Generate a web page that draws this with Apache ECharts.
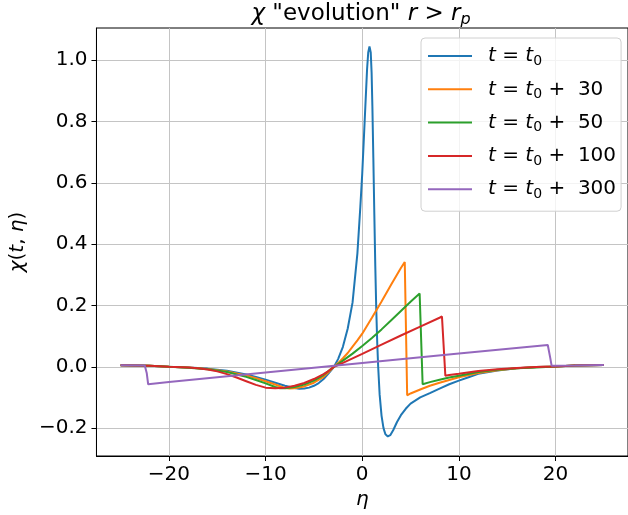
<!DOCTYPE html>
<html>
<head>
<meta charset="utf-8">
<script src="https://cdn.jsdelivr.net/npm/echarts@6/dist/echarts.min.js"></script>
<style>
html,body{margin:0;padding:0;background:#fff;}
#chart{width:628px;height:515px;}
</style>
</head>
<body>
<div id="chart"></div>
<script>
// ---- data ----
const xTicks = [-20, -10, 0, 10, 20];
const yTicks = [-0.2, 0.0, 0.2, 0.4, 0.6, 0.8, 1.0];
const seriesNames = ['30', '50', '100', '300'];

const eta0 = [-25,-22,-20,-18,-16,-14,-12,-11,-10,-9,-8,-7,-6.5,-6,-5.5,-5,-4.5,-4,-3.5,-2.92,-2.5,-2,-1.5,-1,-0.5,-0.2,0,0.25,0.5,0.62,0.75,0.88,0.97,1.05,1.15,1.25,1.35,1.45,1.55,1.65,1.8,2.0,2.2,2.4,2.65,2.9,3.2,3.6,4,4.5,5,6,7,8,9,10,11,12,14,16,18,20,22,25];
const chi0 = [0.005,0.003,0.0,-0.002,-0.006,-0.013,-0.025,-0.033,-0.042,-0.052,-0.062,-0.069,-0.072,-0.071,-0.068,-0.062,-0.053,-0.04,-0.022,0,0.025,0.065,0.125,0.21,0.37,0.52,0.63,0.8,0.97,1.025,1.045,1.025,0.96,0.85,0.68,0.5,0.33,0.19,0.08,0.0,-0.09,-0.16,-0.2,-0.22,-0.227,-0.223,-0.207,-0.18,-0.158,-0.137,-0.12,-0.1,-0.086,-0.071,-0.057,-0.045,-0.034,-0.023,-0.012,-0.005,-0.001,0.001,0.004,0.006];

const eta30 = [-25,-22,-20,-18,-16,-14,-12,-11,-10,-9,-8,-7.5,-7,-6,-5,-4,-3.5,-2.92,-2.5,-2,-1.5,-1,-0.5,0,1,2,3,4,4.4,4.65,5,6,7,8,9,10,12,14,16,18,20,22,25];
const chi30 = [0.005,0.003,0.0,-0.002,-0.007,-0.015,-0.028,-0.037,-0.047,-0.058,-0.069,-0.071,-0.07,-0.064,-0.052,-0.033,-0.018,0,0.012,0.028,0.045,0.066,0.086,0.108,0.16,0.213,0.268,0.322,0.342,-0.093,-0.087,-0.074,-0.062,-0.052,-0.043,-0.034,-0.02,-0.011,-0.005,-0.001,0.001,0.004,0.006];

const eta50 = [-25,-22,-20,-18,-16,-14,-12,-11,-10,-9,-8.5,-8,-7,-6,-5,-4,-3.5,-2.92,-2,-1,0,1,2,3,4,5,5.94,6.25,7,8,9,10,12,14,16,18,20,22,25];
const chi50 = [0.005,0.003,0.0,-0.003,-0.008,-0.017,-0.033,-0.043,-0.054,-0.066,-0.07,-0.07,-0.066,-0.058,-0.045,-0.027,-0.014,0,0.02,0.043,0.068,0.094,0.122,0.152,0.182,0.212,0.239,-0.057,-0.05,-0.042,-0.035,-0.029,-0.017,-0.01,-0.005,-0.002,0.001,0.004,0.006];

const eta100 = [-25,-22,-20,-18,-17,-16,-15,-14,-13,-12,-11,-10,-9,-8,-7,-6,-5,-4,-3.5,-2.92,-2,0,2,4,6,8,8.25,8.6,9,10,12,14,16,18,20,22,25];
const chi100 = [0.005,0.003,0.0,-0.002,-0.005,-0.009,-0.015,-0.024,-0.035,-0.047,-0.059,-0.068,-0.07,-0.068,-0.062,-0.053,-0.04,-0.024,-0.014,0,0.013,0.042,0.072,0.102,0.131,0.16,0.164,-0.029,-0.027,-0.023,-0.014,-0.008,-0.004,-0.001,0.001,0.004,0.006];

const eta300 = [-25,-22.5,-22.3,-22.15,-20,-10,0,10,19.2,19.45,19.6,22,25];
const chi300 = [0.005,0.004,-0.02,-0.057,-0.05,-0.019,0.012,0.043,0.071,0.03,0.003,0.004,0.006];

const colors = ['#1f77b4', '#ff7f0e', '#2ca02c', '#d62728', '#9467bd'];
// ---------------------------------------

const FONT = 'DejaVu Sans';
const pairs = (xs, ys) => xs.map((x, i) => [x, ys[i]]);
const minus = s => String(s).replace('-', '\u2212');

const curves = [
  {name: 'L0', eta: eta0, chi: chi0},
  {name: 'L30', eta: eta30, chi: chi30},
  {name: 'L50', eta: eta50, chi: chi50},
  {name: 'L100', eta: eta100, chi: chi100},
  {name: 'L300', eta: eta300, chi: chi300}
];

const labelText = {
  L0: '{i|t} = {i|t}{s|0}',
  L30: '{i|t} = {i|t}{s|0} +  ' + seriesNames[0],
  L50: '{i|t} = {i|t}{s|0} +  ' + seriesNames[1],
  L100: '{i|t} = {i|t}{s|0} +  ' + seriesNames[2],
  L300: '{i|t} = {i|t}{s|0} +  ' + seriesNames[3]
};

const chart = echarts.init(document.getElementById('chart'), null, {renderer: 'canvas'});
chart.setOption({
  animation: false,
  backgroundColor: '#ffffff',
  color: colors,
  title: {
    text: '{i|\u03c7} "evolution" {i|r} > {i|r}{s|p}',
    left: 361,
    top: 0,
    textAlign: 'center',
    padding: 0,
    textStyle: {
      fontFamily: FONT, fontSize: 23, color: '#000', fontWeight: 'normal', lineHeight: 28,
      rich: {
        i: {fontFamily: FONT, fontSize: 23, fontStyle: 'italic', color: '#000', lineHeight: 28},
        s: {fontFamily: FONT, fontSize: 16, fontStyle: 'italic', color: '#000', lineHeight: 16, padding: [12, 0, 0, 0]}
      }
    }
  },
  legend: {
    orient: 'vertical',
    left: 421,
    top: 38,
    padding: [6, 5, 10, 7],
    icon: 'rect',
    itemWidth: 44,
    itemHeight: 2,
    itemGap: 9.3,
    backgroundColor: 'rgba(255,255,255,0.8)',
    borderColor: '#d0d0d0',
    borderWidth: 1,
    borderRadius: 4,
    data: curves.map(c => c.name),
    formatter: n => labelText[n],
    textStyle: {
      fontFamily: FONT, fontSize: 20, color: '#000', lineHeight: 22, padding: [0, 0, 0, 11],
      rich: {
        i: {fontFamily: FONT, fontSize: 20, fontStyle: 'italic', color: '#000', lineHeight: 22},
        s: {fontFamily: FONT, fontSize: 14, color: '#000', lineHeight: 12, padding: [10, 0, 0, 0]}
      }
    }
  },
  grid: {
    left: 92, top: 28, right: -3, bottom: 59,
    show: true, borderColor: '#000', borderWidth: 1, backgroundColor: 'transparent'
  },
  xAxis: {
    type: 'value',
    min: -27.5, max: 27.5,
    name: '{i|\u03b7}',
    nameLocation: 'middle',
    nameGap: 33,
    nameTextStyle: {
      fontFamily: FONT, fontSize: 20, color: '#000',
      rich: {i: {fontFamily: FONT, fontSize: 20, fontStyle: 'italic', color: '#000'}}
    },
    axisLine: {show: true, onZero: false, lineStyle: {color: '#000', width: 1}},
    axisTick: {show: true, inside: false, length: 5, customValues: xTicks, lineStyle: {color: '#000', width: 1}},
    axisLabel: {
      customValues: xTicks, margin: 9,
      fontFamily: FONT, fontSize: 20, color: '#000',
      formatter: v => minus(v)
    },
    splitLine: {show: true, lineStyle: {color: '#c4c4c4', width: 1}}
  },
  yAxis: {
    type: 'value',
    min: -0.291, max: 1.105,
    name: '{i|\u03c7}({i|t}, {i|\u03b7})',
    nameLocation: 'middle',
    nameGap: 58,
    nameRotate: 90,
    nameTextStyle: {
      fontFamily: FONT, fontSize: 20, color: '#000',
      rich: {i: {fontFamily: FONT, fontSize: 20, fontStyle: 'italic', color: '#000'}}
    },
    axisLine: {show: true, onZero: false, lineStyle: {color: '#000', width: 1}},
    axisTick: {show: true, inside: false, length: 5, customValues: yTicks, lineStyle: {color: '#000', width: 1}},
    axisLabel: {
      customValues: yTicks, margin: 9,
      fontFamily: FONT, fontSize: 20, color: '#000',
      formatter: v => minus(Number(v).toFixed(1))
    },
    splitLine: {show: true, lineStyle: {color: '#c4c4c4', width: 1}}
  },
  series: curves.map((c, k) => ({
    name: c.name,
    type: 'line',
    data: pairs(c.eta, c.chi),
    symbol: 'none',
    showSymbol: false,
    smooth: false,
    lineStyle: {width: 2, color: colors[k]},
    itemStyle: {color: colors[k]},
    z: 2 + k
  }))
});
</script>
</body>
</html>
